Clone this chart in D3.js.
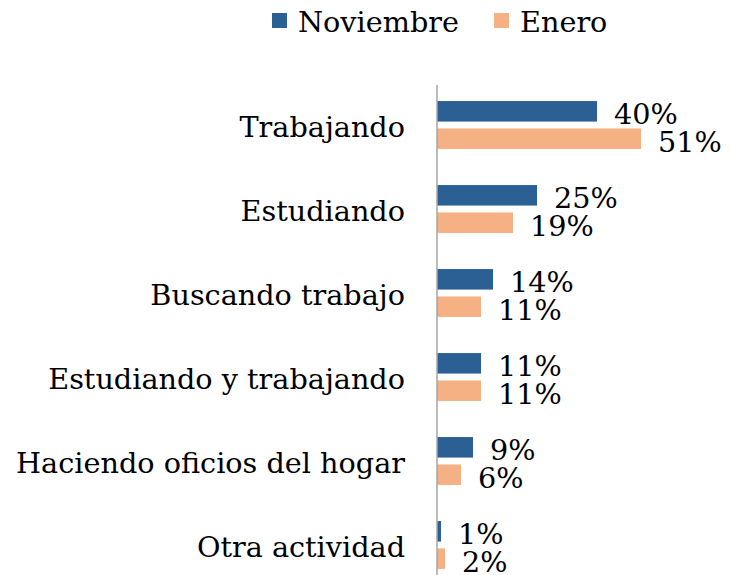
<!DOCTYPE html>
<html>
<head>
<meta charset="utf-8">
<script src="https://cdn.jsdelivr.net/npm/d3@7"></script>
<style>
  body { margin: 0; background: #fff; }
  text { font-family: "DejaVu Serif", serif; fill: #000; }
</style>
</head>
<body>
<div id="chart"></div>
<script>
// data
var categories = ["Trabajando", "Estudiando", "Buscando trabajo",
                  "Estudiando y trabajando", "Haciendo oficios del hogar", "Otra actividad"];
var series = ["Noviembre", "Enero"];
var noviembre = [40, 25, 14, 11, 9, 1];
var enero = [51, 19, 11, 11, 6, 2];
var colors = ["#2a6094", "#f5b183"];

var width = 731, height = 575;
var fontSize = "28.7px";

var svg = d3.select("#chart")
  .append("svg")
  .attr("width", width)
  .attr("height", height);

var rows = categories.map(function(c, i) {
  return { cat: c, values: [noviembre[i], enero[i]] };
});

var x = d3.scaleLinear()
  .domain([0, 60])
  .range([437, 677]);

var y0 = d3.scaleBand()
  .domain(categories)
  .range([83, 587])
  .paddingInner(0.43)
  .paddingOuter(0.215);

var y1 = d3.scaleBand()
  .domain(series)
  .range([0, y0.bandwidth()])
  .paddingInner(0.25);

// category labels
svg.append("g")
  .selectAll("text")
  .data(categories)
  .enter()
  .append("text")
  .attr("x", 405)
  .attr("y", function(d) { return y0(d) + y0.bandwidth() / 2 + 2; })
  .attr("text-anchor", "end")
  .attr("dominant-baseline", "central")
  .style("font-size", fontSize)
  .text(function(d) { return d; });

// bars
var groups = svg.append("g")
  .selectAll("g")
  .data(rows)
  .enter()
  .append("g")
  .attr("transform", function(d) { return "translate(0," + y0(d.cat) + ")"; });

groups.selectAll("rect")
  .data(function(d) { return d.values.map(function(v, j) { return { s: series[j], v: v, j: j }; }); })
  .enter()
  .append("rect")
  .attr("x", x(0))
  .attr("y", function(d) { return y1(d.s); })
  .attr("width", function(d) { return x(d.v) - x(0); })
  .attr("height", y1.bandwidth())
  .attr("fill", function(d) { return colors[d.j]; });

groups.selectAll("text")
  .data(function(d) { return d.values.map(function(v, j) { return { s: series[j], v: v, j: j }; }); })
  .enter()
  .append("text")
  .attr("x", function(d) { return x(d.v) + 17; })
  .attr("y", function(d) { return y1(d.s) + y1.bandwidth() / 2 + 3; })
  .attr("dominant-baseline", "central")
  .style("font-size", fontSize)
  .text(function(d) { return d.v + "%"; });

// axis line
svg.append("line")
  .attr("x1", x(0)).attr("x2", x(0))
  .attr("y1", 85).attr("y2", height)
  .attr("stroke", "#a6a6a6")
  .attr("stroke-width", 1.5);

// legend
var legendX = [272, 494];
var legend = svg.append("g")
  .selectAll("g")
  .data(series)
  .enter()
  .append("g")
  .attr("transform", function(d, i) { return "translate(" + legendX[i] + ",13)"; });

legend.append("rect")
  .attr("width", 15)
  .attr("height", 15)
  .attr("fill", function(d, i) { return colors[i]; });

legend.append("text")
  .attr("x", 26)
  .attr("y", 9)
  .attr("dominant-baseline", "central")
  .style("font-size", fontSize)
  .text(function(d) { return d; });
</script>
</body>
</html>
